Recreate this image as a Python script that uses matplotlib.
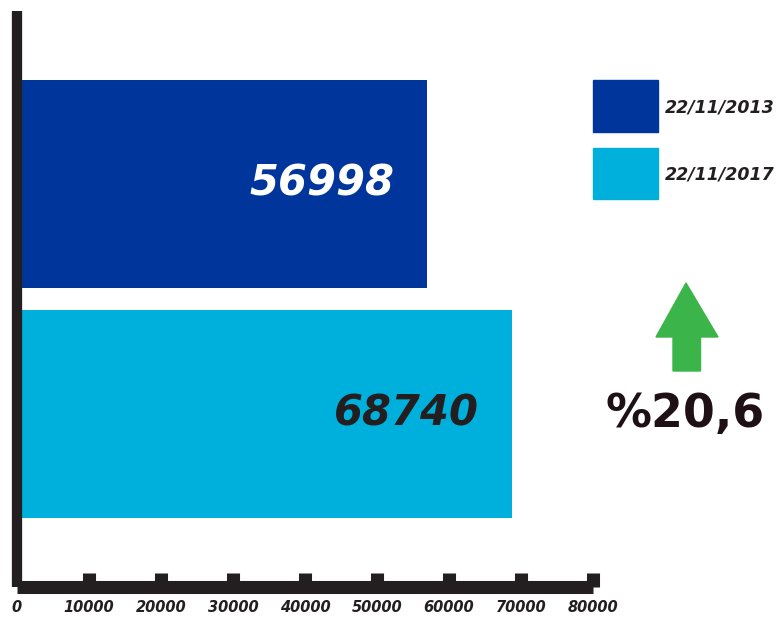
import matplotlib
matplotlib.use("Agg")
import matplotlib.pyplot as plt
from matplotlib.patches import Rectangle, Polygon

# ---- data ----
dates = ["22/11/2013", "22/11/2017"]
values = [56998, 68740]
colors = ["#00359c", "#00b0dc"]
label_colors = ["white", "#231f20"]
xticks = [0, 10000, 20000, 30000, 40000, 50000, 60000, 70000, 80000]
change_text = "%20,6"

W, H = 777, 618
fig = plt.figure(figsize=(W / 100, H / 100), dpi=100)

def fx(px):
    return px / W

def fy(py):
    return 1 - py / H

ax_left, ax_right, ax_top, ax_bottom = 17, 593, 11, 586.5
ax = fig.add_axes([fx(ax_left), fy(ax_bottom), fx(ax_right - ax_left), (ax_bottom - ax_top) / H])

ypos = [1, 0]
ax.barh(ypos, values, height=0.904, color=colors, zorder=1)
ax.set_xlim(0, 80000)
ax.set_ylim(-0.75, 1.752)

font = "DejaVu Sans"
for y, v, c in zip(ypos, values, label_colors):
    ax.annotate(str(v), xy=(v, y), xytext=(-24, 0), textcoords="offset points",
                ha="right", va="center", fontsize=30, fontweight="bold",
                fontstyle="italic", color=c, family=font)

for s in ["top", "right"]:
    ax.spines[s].set_visible(False)
ax.spines["left"].set_linewidth(7.4)
ax.spines["left"].set_color("#231f20")
ax.spines["left"].set_capstyle("butt")
ax.spines["bottom"].set_linewidth(9.4)
ax.spines["bottom"].set_color("#231f20")
ax.spines["bottom"].set_capstyle("butt")

ax.set_yticks([])
ax.set_xticks(xticks)
ax.set_xticklabels([str(t) for t in xticks], fontsize=10.5, fontweight="bold",
                   fontstyle="italic", color="#231f20", family=font)
ax.tick_params(axis="x", direction="in", length=10.4, width=9.4, color="#231f20", pad=10)
ax.xaxis.get_major_ticks()[0].tick1line.set_visible(False)
for t in ax.xaxis.get_major_ticks():
    t.tick1line.set_zorder(0)
ax.set_facecolor("none")

# legend
leg_boxes = [(593, 80, 658, 132), (593, 148, 658, 199)]
for (x0, y0, x1, y1), c, d in zip(leg_boxes, colors, dates):
    fig.patches.append(Rectangle((fx(x0), fy(y1)), fx(x1 - x0), (y1 - y0) / H,
                                 transform=fig.transFigure, color=c))
    fig.text(fx(665), fy((y0 + y1) / 2 + 1), d, ha="left", va="center", fontsize=12.5,
             fontweight="bold", fontstyle="italic", color="#231f20", family=font)

# green arrow
arrow_px = [(686, 283), (718, 337), (700.5, 337), (700.5, 371), (673, 371), (673, 337), (656, 337)]
fig.patches.append(Polygon([(fx(x), fy(y)) for x, y in arrow_px], closed=True,
                           transform=fig.transFigure, color="#3bb54a"))

fig.text(fx(685), fy(415), change_text, ha="center", va="center", fontsize=33,
         fontweight="heavy", color="#1e1014", family=font)

fig.savefig("out.png", dpi=100)
